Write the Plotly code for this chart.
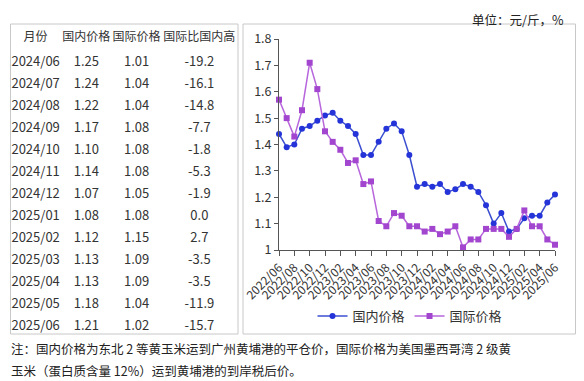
import plotly.graph_objects as go

# ---- data ----
months = ["2022/06","2022/07","2022/08","2022/09","2022/10","2022/11","2022/12",
          "2023/01","2023/02","2023/03","2023/04","2023/05","2023/06","2023/07",
          "2023/08","2023/09","2023/10","2023/11","2023/12","2024/01","2024/02",
          "2024/03","2024/04","2024/05","2024/06","2024/07","2024/08","2024/09",
          "2024/10","2024/11","2024/12","2025/01","2025/02","2025/03","2025/04",
          "2025/05","2025/06"]
domestic = [1.44,1.39,1.40,1.46,1.47,1.49,1.51,1.52,1.49,1.47,1.44,1.36,1.36,1.41,
            1.46,1.48,1.45,1.36,1.24,1.25,1.24,1.25,1.22,1.23,1.25,1.24,1.22,1.17,
            1.10,1.14,1.07,1.08,1.12,1.13,1.13,1.18,1.21]
international = [1.57,1.50,1.43,1.53,1.71,1.61,1.45,1.41,1.38,1.33,1.34,1.25,1.26,1.11,
                 1.09,1.14,1.13,1.09,1.09,1.07,1.08,1.06,1.07,1.09,1.01,1.04,1.04,1.08,
                 1.08,1.08,1.05,1.08,1.15,1.09,1.09,1.04,1.02]
tick_labels = months[::2]

table_header = ["月份", "国内价格", "国际价格", "国际比国内高"]
table_months = ["2024/06","2024/07","2024/08","2024/09","2024/10","2024/11","2024/12",
                "2025/01","2025/02","2025/03","2025/04","2025/05","2025/06"]
table_dom = ["1.25","1.24","1.22","1.17","1.10","1.14","1.07","1.08","1.12","1.13","1.13","1.18","1.21"]
table_int = ["1.01","1.04","1.04","1.08","1.08","1.08","1.05","1.08","1.15","1.09","1.09","1.04","1.02"]
table_diff = ["-19.2","-16.1","-14.8","-7.7","-1.8","-5.3","-1.9","0.0","2.7","-3.5","-3.5","-11.9","-15.7"]

unit_text = "单位：元/斤，%"
note_line1 = "注：国内价格为东北 2 等黄玉米运到广州黄埔港的平仓价，国际价格为美国墨西哥湾 2 级黄"
note_line2 = "玉米（蛋白质含量 12%）运到黄埔港的到岸税后价。"

# page body has an 8px margin; figure fills the rest of the 584x381 window
OFF = 8
W, H = 584 - OFF, 381 - OFF
def px(x): return (x - OFF) / W
def py(y): return 1 - (y - OFF) / H

FONT = "Noto Sans CJK SC"
BLUE_L, BLUE_M = "#3b4fd0", "#2434d8"
PUR_L, PUR_M = "#b766dc", "#a346cf"
CLEAR = "rgba(0,0,0,0)"

fig = go.Figure()

fig.add_trace(go.Table(
    domain=dict(x=[px(10), px(237)], y=[py(340), py(24)]),
    columnwidth=[51, 50, 50, 75],
    header=dict(values=table_header, height=24, align="center",
                fill_color=CLEAR, line_color=CLEAR,
                font=dict(family=FONT, size=12, color="#333333")),
    cells=dict(values=[table_months, table_dom, table_int, table_diff], height=22,
               align="center", fill_color=CLEAR, line_color=CLEAR,
               font=dict(family=FONT, size=13, color="#333333")),
))

fig.add_trace(go.Scatter(
    x=list(range(len(months))), y=domestic, name="国内价格", mode="lines+markers",
    line=dict(color=BLUE_L, width=1.5),
    marker=dict(color=BLUE_M, size=6, symbol="circle"), cliponaxis=False))
fig.add_trace(go.Scatter(
    x=list(range(len(months))), y=international, name="国际价格", mode="lines+markers",
    line=dict(color=PUR_L, width=1.5),
    marker=dict(color=PUR_M, size=6, symbol="square"), cliponaxis=False))

fig.update_layout(
    width=W, height=H, margin=dict(l=0, r=0, t=0, b=0, autoexpand=False),
    paper_bgcolor="white", plot_bgcolor="white",
    font=dict(family=FONT, color="#333333"),
    showlegend=True,
    legend=dict(orientation="h", x=px(410), xanchor="center", y=py(316), yanchor="middle",
                font=dict(family=FONT, size=13, color="#333333"), itemwidth=30,
                bgcolor=CLEAR),
    xaxis=dict(domain=[px(279), px(555)], range=[0, len(months) - 1], automargin=False,
               tickmode="array", tickvals=list(range(0, len(months), 2)), ticktext=tick_labels,
               tickangle=-45, ticks="outside", ticklen=5, tickcolor="#555555",
               showline=True, linecolor="#555555", linewidth=1, showgrid=False, zeroline=False,
               tickfont=dict(family=FONT, size=12, color="#333333")),
    yaxis=dict(domain=[py(250), py(39)], range=[1.0, 1.8], automargin=False,
               tickvals=[1.0,1.1,1.2,1.3,1.4,1.5,1.6,1.7,1.8],
               ticktext=["1","1.1","1.2","1.3","1.4","1.5","1.6","1.7","1.8"],
               ticks="outside", ticklen=4, tickcolor="#555555",
               showline=True, linecolor="#555555", linewidth=1, showgrid=False, zeroline=False,
               tickfont=dict(family=FONT, size=12.5, color="#333333")),
    shapes=[
        dict(type="rect", xref="paper", yref="paper", x0=px(10.5), x1=px(238), y0=py(334), y1=py(24),
             line=dict(color="#c8c8c8", width=1)),
        dict(type="rect", xref="paper", yref="paper", x0=px(243), x1=px(575.5), y0=py(334), y1=py(24),
             line=dict(color="#c8c8c8", width=1)),
    ],
    annotations=[
        dict(text=unit_text, xref="paper", yref="paper", x=px(566), y=py(8), xanchor="right",
             yanchor="top", showarrow=False, font=dict(family=FONT, size=12.5, color="#222222")),
        dict(text=note_line1, xref="paper", yref="paper", x=px(9), y=py(348), xanchor="left",
             yanchor="middle", showarrow=False, font=dict(family=FONT, size=12.5, color="#222222")),
        dict(text=note_line2, xref="paper", yref="paper", x=px(9), y=py(370), xanchor="left",
             yanchor="middle", showarrow=False, font=dict(family=FONT, size=12.5, color="#222222")),
    ],
)

fig.write_html("out.html")
